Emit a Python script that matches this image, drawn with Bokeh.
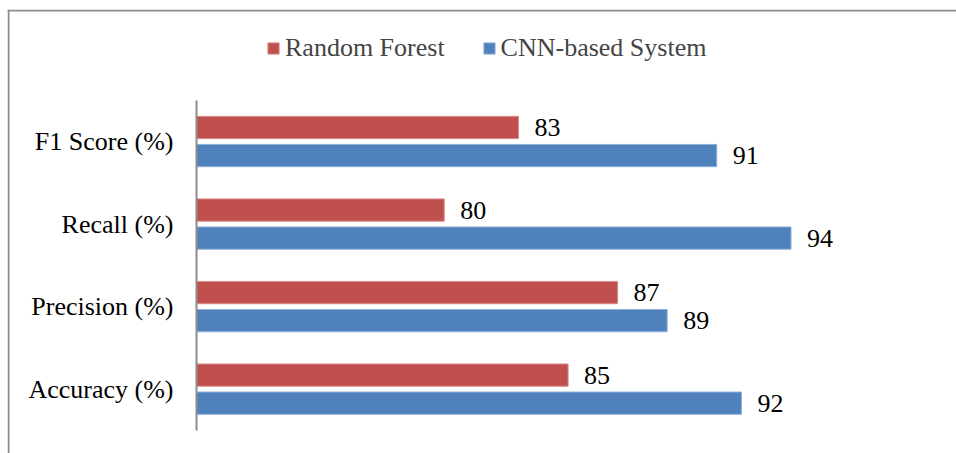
from bokeh.plotting import figure
from bokeh.models import (ColumnDataSource, Range1d, LabelSet, Legend, LegendItem,
                          LinearAxis, FixedTicker, Span)
from bokeh.transform import dodge
from bokeh.embed import file_html
from bokeh.resources import INLINE

# data (bottom to top)
categories = ["Accuracy (%)", "Precision (%)", "Recall (%)", "F1 Score (%)"]
random_forest = [85, 87, 80, 83]
cnn_system = [92, 89, 94, 91]
series_names = ["Random Forest", "CNN-based System"]
x_start = 70  # value axis origin

RED = "#C0504D"
BLUE = "#4F81BD"
FONT = "Liberation Serif"
GREY = "#8c8c8c"

W, H, BL, BT = 956, 453, 7, 9
X0, X1 = 62.37, 100.68
Y0, Y1 = -0.78, 4.6

pos = list(range(len(categories)))
src = ColumnDataSource(dict(pos=pos, rf=random_forest, cnn=cnn_system,
                            rf_lbl=[str(v) for v in random_forest],
                            cnn_lbl=[str(v) for v in cnn_system]))

p = figure(width=W, height=H, output_backend="svg", toolbar_location=None,
           x_range=Range1d(X0, X1), y_range=Range1d(Y0, Y1),
           x_axis_location=None, y_axis_location=None,
           min_border_left=BL, min_border_right=0, min_border_top=BT,
           min_border_bottom=0)
p.outline_line_color = None
p.grid.visible = False

ax = LinearAxis(fixed_location=x_start, ticker=FixedTicker(ticks=pos),
                major_label_overrides={i: c for i, c in zip(pos, categories)},
                bounds=(-0.5, len(categories) - 0.5))
ax.axis_line_color = GREY
ax.axis_line_width = 2
ax.major_tick_line_color = None
ax.minor_tick_line_color = None
ax.major_tick_out = 0
ax.major_tick_in = 0
ax.major_label_standoff = 23
ax.major_label_text_font = FONT
ax.major_label_text_font_size = "26px"
ax.major_label_text_color = "black"
p.add_layout(ax, "left")

r1 = p.hbar(y=dodge("pos", 0.17), left=x_start, right="rf",
            height=0.27, source=src, fill_color=RED, line_color="#d98c8a", line_width=1)
r2 = p.hbar(y=dodge("pos", -0.17), left=x_start, right="cnn",
            height=0.27, source=src, fill_color=BLUE, line_color="#8fb0d8", line_width=1)

for col, lab, off in (("rf", "rf_lbl", 0.17), ("cnn", "cnn_lbl", -0.17)):
    p.add_layout(LabelSet(x=col, y=dodge("pos", off), text=lab,
                          source=src, x_offset=16, text_baseline="middle",
                          text_font=FONT, text_font_size="26px", text_color="black"))

legend = Legend(items=[LegendItem(label=series_names[0], renderers=[r1]),
                       LegendItem(label=series_names[1], renderers=[r2])],
                orientation="horizontal", location=(259, 390),
                glyph_width=14, glyph_height=14, label_standoff=5, spacing=37,
                padding=0, margin=0, border_line_color=None, background_fill_alpha=0,
                label_text_font=FONT, label_text_font_size="26px",
                label_text_baseline="middle", label_height=14)
p.add_layout(legend, "center")

# chart border (top and left edges), inset 1px inside the frame
px_x = (W - BL) / (X1 - X0)
px_y = (H - BT) / (Y1 - Y0)
p.add_layout(Span(location=X0 + 1.0 / px_x, dimension="height",
                  line_color=GREY, line_width=2))
p.add_layout(Span(location=Y1 - 1.0 / px_y, dimension="width",
                  line_color=GREY, line_width=2))

open("out.html", "w").write(file_html(p, INLINE))
